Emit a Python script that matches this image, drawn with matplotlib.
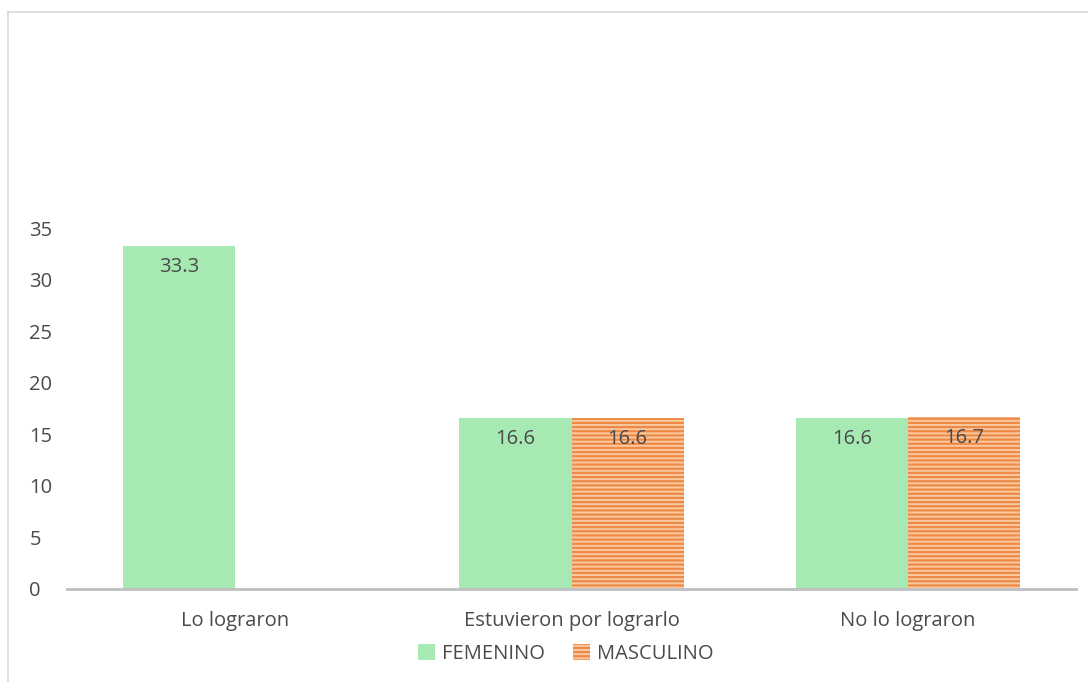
import matplotlib
matplotlib.use("Agg")
import matplotlib.pyplot as plt
import numpy as np
from matplotlib.lines import Line2D

plt.rcParams['hatch.linewidth'] = 1.6
plt.rcParams['font.family'] = ['Open Sans', 'DejaVu Sans']

categories = ["Lo lograron", "Estuvieron por lograrlo", "No lo lograron"]
femenino = [33.3, 16.6, 16.6]
masculino = [None, 16.6, 16.7]
series_names = ["FEMENINO", "MASCULINO"]
yticks = [0, 5, 10, 15, 20, 25, 30, 35]

W, H = 1088, 682
fig = plt.figure(figsize=(W / 100, H / 100), dpi=100)
ax = fig.add_axes([67 / W, 1 - 589 / H, (1076 - 67) / W, (589 - 228) / H])

x = np.arange(len(categories))
bw = 1 / 3
green = '#a6e9b3'
orange_fill = '#f9c9a2'
orange = '#ee8a44'
txt = '#4a4a4a'
fs = 14.5

fem_x = x - bw / 2
bf = ax.bar(fem_x, femenino, width=bw, color=green, label=series_names[0], linewidth=0)
mx = [xi + bw / 2 for xi, v in zip(x, masculino) if v is not None]
mv = [v for v in masculino if v is not None]
bm = ax.bar(mx, mv, width=bw, color=orange_fill, edgecolor=orange, hatch='----',
            linewidth=0, label=series_names[1])

for xs, vs in ((fem_x, femenino), (mx, mv)):
    for xi, v in zip(xs, vs):
        ax.annotate(f"{v:.1f}", (xi, v), xytext=(0, -21), textcoords='offset pixels',
                    ha='center', va='center', fontsize=fs, color=txt)

ax.set_xlim(-0.5, len(categories) - 0.5)
ax.set_ylim(0, 35)
ax.set_yticks(yticks)
ax.set_xticks(x)
ax.set_xticklabels(categories, fontsize=fs, color=txt)
ax.tick_params(axis='x', length=0, pad=16)
ax.tick_params(axis='y', length=0, pad=27, labelsize=fs, labelcolor=txt)
for lab in ax.get_yticklabels():
    lab.set_horizontalalignment('left')
for s in ['top', 'right', 'left']:
    ax.spines[s].set_visible(False)
ax.spines['bottom'].set_color('#c0c0c0')
ax.spines['bottom'].set_linewidth(2)

leg = fig.legend(handles=[bf, bm], labels=series_names, loc='center', bbox_to_anchor=(566 / W, 1 - 654 / H),
                 ncol=2, frameon=False, fontsize=fs, handlelength=0.85, handleheight=0.85,
                 handletextpad=0.35, columnspacing=1.4)
for t in leg.get_texts():
    t.set_color(txt)

fig.add_artist(Line2D([8 / W, 8 / W], [0, 1 - 12 / H], color='#d9d9d9', linewidth=1.2, transform=fig.transFigure))
fig.add_artist(Line2D([8 / W, 1], [1 - 12 / H, 1 - 12 / H], color='#d9d9d9', linewidth=1.2, transform=fig.transFigure))

fig.savefig('out.png', dpi=100, facecolor='white')
